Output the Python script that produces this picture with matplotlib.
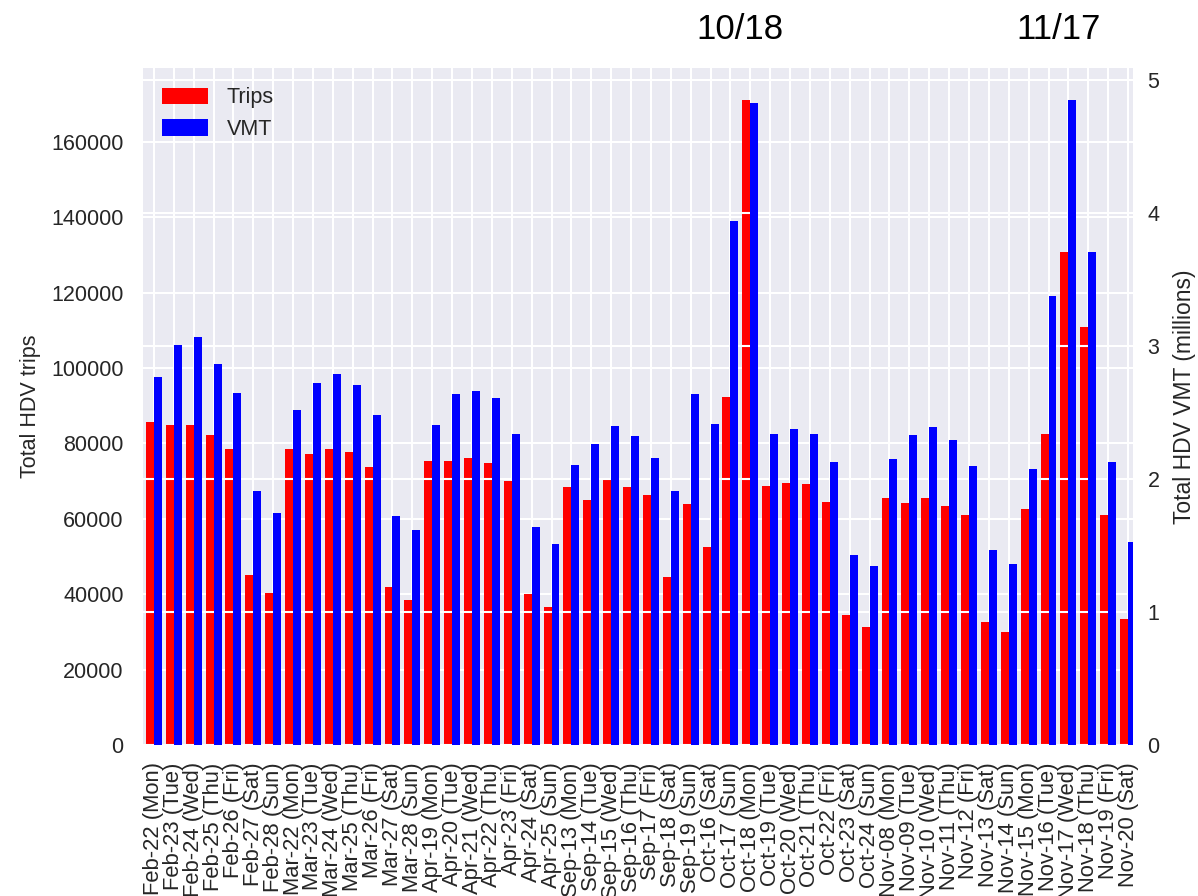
import numpy as np
import matplotlib
matplotlib.use("Agg")
import matplotlib.pyplot as plt
import matplotlib.transforms as mtransforms
from matplotlib.ticker import MultipleLocator
import seaborn as sns

sns.set_style("darkgrid")
plt.rcParams['font.family'] = ['Liberation Sans', 'DejaVu Sans']

days = ["Feb-22 (Mon)", "Feb-23 (Tue)", "Feb-24 (Wed)", "Feb-25 (Thu)", "Feb-26 (Fri)", "Feb-27 (Sat)", "Feb-28 (Sun)",
        "Mar-22 (Mon)", "Mar-23 (Tue)", "Mar-24 (Wed)", "Mar-25 (Thu)", "Mar-26 (Fri)", "Mar-27 (Sat)", "Mar-28 (Sun)",
        "Apr-19 (Mon)", "Apr-20 (Tue)", "Apr-21 (Wed)", "Apr-22 (Thu)", "Apr-23 (Fri)", "Apr-24 (Sat)", "Apr-25 (Sun)",
        "Sep-13 (Mon)", "Sep-14 (Tue)", "Sep-15 (Wed)", "Sep-16 (Thu)", "Sep-17 (Fri)", "Sep-18 (Sat)", "Sep-19 (Sun)",
        "Oct-16 (Sat)", "Oct-17 (Sun)", "Oct-18 (Mon)", "Oct-19 (Tue)", "Oct-20 (Wed)", "Oct-21 (Thu)", "Oct-22 (Fri)",
        "Oct-23 (Sat)", "Oct-24 (Sun)",
        "Nov-08 (Mon)", "Nov-09 (Tue)", "Nov-10 (Wed)", "Nov-11 (Thu)", "Nov-12 (Fri)", "Nov-13 (Sat)", "Nov-14 (Sun)",
        "Nov-15 (Mon)", "Nov-16 (Tue)", "Nov-17 (Wed)", "Nov-18 (Thu)", "Nov-19 (Fri)", "Nov-20 (Sat)"]

trips = [85600, 84900, 84900, 82300, 78600, 45000, 40400,
         78600, 77300, 78600, 77700, 73600, 41800, 38400,
         75200, 75200, 76000, 74700, 70100, 40000, 36600,
         68500, 65100, 70500, 68400, 66400, 44500, 64000,
         52600, 92300, 171000, 68600, 69600, 69100, 64400, 34400, 31400,
         65400, 64300, 65600, 63500, 61000, 32700, 30100, 62700, 82500, 130800, 110900, 61000, 33500]

vmt_millions = [2.765, 3.008, 3.068, 2.866, 2.648, 1.912, 1.747,
                2.515, 2.718, 2.790, 2.708, 2.477, 1.722, 1.612,
                2.407, 2.635, 2.660, 2.610, 2.335, 1.639, 1.507,
                2.107, 2.262, 2.395, 2.325, 2.158, 1.911, 2.637,
                2.412, 3.934, 4.821, 2.338, 2.376, 2.338, 2.124, 1.431, 1.345,
                2.149, 2.328, 2.387, 2.292, 2.098, 1.466, 1.358, 2.076, 3.371, 4.845, 3.706, 2.123, 1.527]

highlights = ["Oct-18 (Mon)", "Nov-17 (Wed)"]
highlight_text = ["10/18", "11/17"]

FS = 15.5
fig = plt.figure(figsize=(11.98, 8.96), dpi=100)
ax = fig.add_axes([143/1198, 151/896, 990/1198, 677/896])
ax2 = ax.twinx()

x = np.arange(len(days))
b1 = ax.bar(x, trips, width=-0.4, align='edge', color='red', linewidth=0, label='Trips')
b2 = ax2.bar(x, vmt_millions, width=0.4, align='edge', color='blue', linewidth=0, label='VMT')

ax.set_xlim(-0.55, 49.25)
ax.set_xticks(x)
ax.set_xticklabels(days, rotation=90, fontsize=15.8, color='.15')
ax.yaxis.set_major_locator(MultipleLocator(20000))
ax2.yaxis.set_major_locator(MultipleLocator(1))
ax.tick_params(axis='y', labelsize=FS, pad=14, length=0, colors='.15')
ax.tick_params(axis='x', pad=12.5, length=0)
ax2.tick_params(axis='y', labelsize=FS, pad=10.5, length=0, colors='.15')
ax2.grid(False, axis='x')
ax2.grid(True, axis='y', color='white', linewidth=1.5)
ax.grid(True, color='white', linewidth=1.5)

ax.set_ylabel("Total HDV trips", fontsize=FS, labelpad=7, color='.15')
ax2.set_ylabel("Total HDV VMT (millions)", fontsize=16.5, color='.15')
ax2.yaxis.set_label_coords(1.040, 0.515)

for s in list(ax.spines.values()) + list(ax2.spines.values()):
    s.set_visible(False)

ax2.legend([b1, b2], ['Trips', 'VMT'], loc='upper left', frameon=False, fontsize=FS,
           handlelength=2.1, handleheight=0.8, handletextpad=0.9, borderaxespad=0.5)

trans = mtransforms.blended_transform_factory(ax.transData, ax.transAxes)
for lbl, txt in zip(highlights, highlight_text):
    i = days.index(lbl)
    ax.text(x[i] - 0.5, 1.0424, txt, transform=trans, ha='center', va='baseline',
            fontsize=25, color='black', clip_on=False)

fig.savefig("out.png", dpi=100)
